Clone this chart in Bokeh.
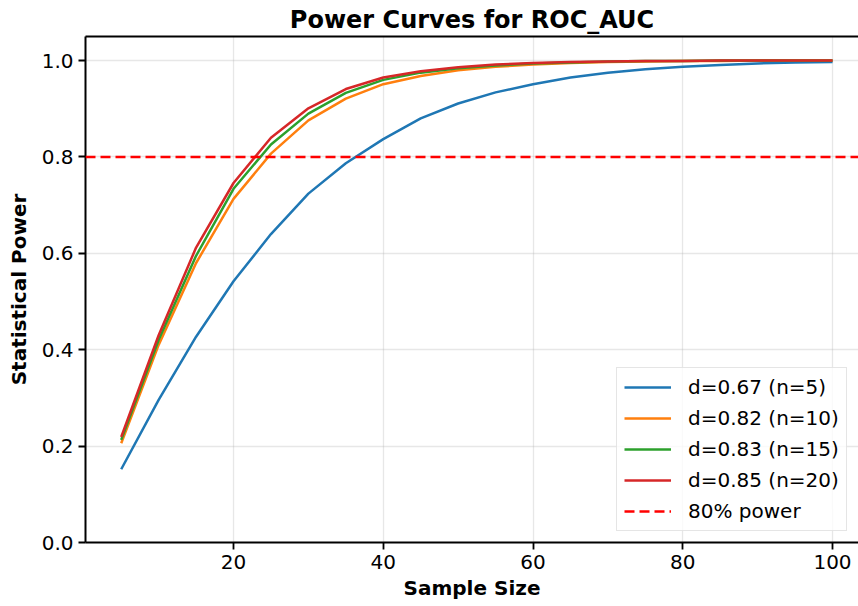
from bokeh.plotting import figure
from bokeh.models import Span, Legend, LegendItem, Range1d, FixedTicker, NumeralTickFormatter, LinearAxis
from bokeh.embed import file_html
from bokeh.resources import INLINE

sample_sizes = [5, 10, 15, 20, 25, 30, 35, 40, 45, 50, 55, 60, 65, 70, 75, 80, 85, 90, 95, 100]
power_d067 = [0.152, 0.296, 0.427, 0.542, 0.640, 0.724, 0.787, 0.837, 0.880, 0.911, 0.934, 0.951, 0.965, 0.975, 0.982, 0.987, 0.991, 0.994, 0.996, 0.997]
power_d082 = [0.206, 0.410, 0.580, 0.713, 0.807, 0.876, 0.921, 0.951, 0.968, 0.980, 0.987, 0.992, 0.995, 0.997, 0.998, 0.999, 0.999, 1.000, 1.000, 1.000]
power_d083 = [0.213, 0.420, 0.595, 0.734, 0.826, 0.890, 0.933, 0.960, 0.975, 0.984, 0.990, 0.994, 0.996, 0.998, 0.999, 0.999, 1.000, 1.000, 1.000, 1.000]
power_d085 = [0.219, 0.430, 0.612, 0.746, 0.840, 0.901, 0.941, 0.965, 0.978, 0.986, 0.992, 0.995, 0.997, 0.998, 0.999, 0.999, 1.000, 1.000, 1.000, 1.000]
series_labels = ["d=0.67 (n=5)", "d=0.82 (n=10)", "d=0.83 (n=15)", "d=0.85 (n=20)"]
series_colors = ["#1f77b4", "#ff7f0e", "#2ca02c", "#d62728"]
threshold = 0.8
threshold_label = "80% power"
x_ticks = [20, 40, 60, 80, 100]
y_ticks = [0.0, 0.2, 0.4, 0.6, 0.8, 1.0]

FONT = "DejaVu Sans"

p = figure(width=858, height=606, output_backend="svg", toolbar_location=None,
           x_range=Range1d(0.23, 103.47), y_range=Range1d(0.0, 1.05),
           min_border_left=85, min_border_right=0, min_border_top=36, min_border_bottom=64)

p.title.text = "Power Curves for ROC_AUC"
p.title.text_font = FONT
p.title.text_font_size = "24px"
p.title.text_font_style = "bold"
p.title.text_color = "black"
p.title.align = "center"
p.title.offset = 0
p.title.standoff = 6

p.outline_line_color = None

xax = p.below[0]
yax = p.left[0]
for ax in (xax, yax):
    ax.axis_label_text_font = FONT
    ax.axis_label_text_font_size = "20px"
    ax.axis_label_text_font_style = "bold"
    ax.axis_label_text_color = "black"
    ax.major_label_text_font = FONT
    ax.major_label_text_font_size = "20px"
    ax.major_label_text_color = "black"
    ax.axis_line_color = "black"
    ax.axis_line_width = 2
    ax.major_tick_line_color = "black"
    ax.major_tick_line_width = 1.8
    ax.major_tick_out = 7
    ax.major_tick_in = 0
    ax.minor_tick_line_color = None
    ax.major_label_standoff = 5

xax.axis_label = "Sample Size"
yax.axis_label = "Statistical Power"
xax.ticker = FixedTicker(ticks=x_ticks)
yax.ticker = FixedTicker(ticks=y_ticks)
yax.formatter = NumeralTickFormatter(format="0.0")
xax.axis_label_standoff = 4
yax.axis_label_standoff = 8

top_axis = LinearAxis(ticker=FixedTicker(ticks=[]), major_tick_out=0, major_tick_in=0,
                      major_label_standoff=0, axis_label_standoff=0,
                      minor_tick_line_color=None, major_tick_line_color=None,
                      axis_line_color="black", axis_line_width=2)
p.add_layout(top_axis, "above")

p.xgrid.ticker = FixedTicker(ticks=x_ticks)
p.ygrid.ticker = FixedTicker(ticks=y_ticks)
p.grid.grid_line_color = "#b0b0b0"
p.grid.grid_line_alpha = 0.3
p.grid.grid_line_width = 1.3

items = []
for ys, lab, col in zip([power_d067, power_d082, power_d083, power_d085], series_labels, series_colors):
    r = p.line(sample_sizes, ys, line_color=col, line_width=2.5)
    items.append(LegendItem(label=lab, renderers=[r]))

span = Span(location=threshold, dimension="width", line_color="#ff0000", line_dash="10 5", line_width=2.5)
p.add_layout(span)
proxy = p.line(x=[sample_sizes[0]], y=[threshold], line_color="#ff0000", line_dash="10 5", line_width=2.5)
items.append(LegendItem(label=threshold_label, renderers=[proxy]))

legend = Legend(items=items, location=(531, 11))
legend.label_text_font = FONT
legend.label_text_font_size = "20px"
legend.label_text_color = "black"
legend.background_fill_alpha = 0.8
legend.border_line_color = "#cccccc"
legend.border_line_width = 1.3
legend.glyph_width = 47
legend.glyph_height = 20
legend.label_standoff = 17
legend.label_height = 20
legend.spacing = 7
legend.padding = 7
legend.margin = 0
p.add_layout(legend)

open("out.html", "w").write(file_html(p, INLINE))
